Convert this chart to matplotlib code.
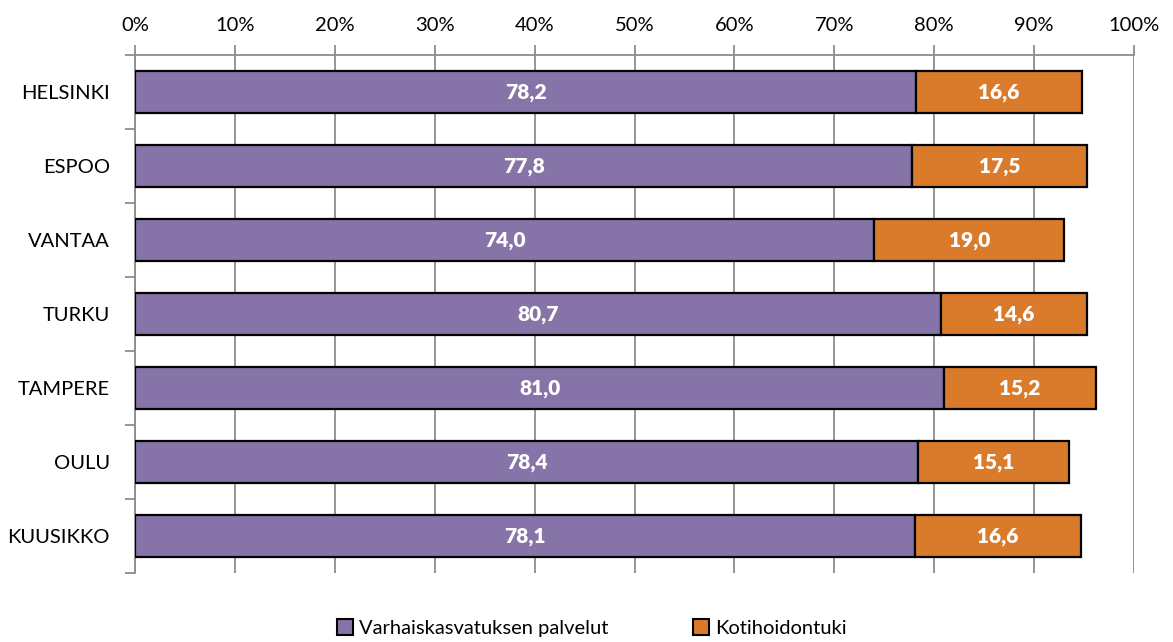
import matplotlib
matplotlib.use("Agg")
import matplotlib.pyplot as plt
import matplotlib.patches as mpatches
import numpy as np

cities = ["HELSINKI", "ESPOO", "VANTAA", "TURKU", "TAMPERE", "OULU", "KUUSIKKO"]
varhais = [78.2, 77.8, 74.0, 80.7, 81.0, 78.4, 78.1]
kotihoito = [16.6, 17.5, 19.0, 14.6, 15.2, 15.1, 16.6]
series_names = ["Varhaiskasvatuksen palvelut", "Kotihoidontuki"]
x_ticks = [0, 10, 20, 30, 40, 50, 60, 70, 80, 90, 100]

purple = "#8674A9"
orange = "#D97B2B"
grid_c = "#8C8C8C"

plt.rcParams["font.family"] = ["Lato", "DejaVu Sans"]

fig = plt.figure(figsize=(11.73, 6.42), dpi=100)
ax = fig.add_axes([135 / 1173, 1 - 573 / 642, (1134 - 135) / 1173, (573 - 55) / 642])

y = np.arange(len(cities))
h = 0.58
b1 = ax.barh(y, varhais, h, color=purple, edgecolor="black", linewidth=1.6, zorder=3)
b2 = ax.barh(y, kotihoito, h, left=varhais, color=orange, edgecolor="black",
             linewidth=1.6, zorder=3)

fmt = lambda v: f"{v:.1f}".replace(".", ",")
for bars, lefts, vals in [(b1, [0] * len(y), varhais), (b2, varhais, kotihoito)]:
    for bar, l, v in zip(bars, lefts, vals):
        ax.text(l + v / 2, bar.get_y() + bar.get_height() / 2, fmt(v),
                ha="center", va="center", color="white", fontsize=15,
                fontweight="heavy", zorder=4)

ax.set_xlim(0, 100)
ax.set_ylim(len(cities) - 0.5, -0.5)
ax.set_xticks(x_ticks)
ax.set_xticklabels([f"{t}%" for t in x_ticks], fontsize=14.5)
ax.xaxis.tick_top()
ax.tick_params(axis="x", direction="out", length=7, width=1.3, color=grid_c, pad=8)
ax.grid(axis="x", color=grid_c, linewidth=1.3, zorder=0)

ax.set_yticks(y)
ax.set_yticklabels(cities, fontsize=14.5)
ax.set_yticks(np.arange(-0.5, len(cities), 1), minor=True)
ax.tick_params(axis="y", which="major", length=0, pad=18)
ax.tick_params(axis="y", which="minor", length=7, width=1.3, color=grid_c)

for s in ["bottom", "right"]:
    ax.spines[s].set_visible(False)
for s in ["top", "left"]:
    ax.spines[s].set_color(grid_c)
    ax.spines[s].set_linewidth(1.3)

handles = [mpatches.Patch(facecolor=purple, edgecolor="black", linewidth=1.5, label=series_names[0]),
           mpatches.Patch(facecolor=orange, edgecolor="black", linewidth=1.5, label=series_names[1])]
fig.legend(handles=handles, loc="center", bbox_to_anchor=(592 / 1173, 1 - 628 / 642),
           ncol=2, frameon=False, fontsize=14.5, handlelength=0.8, handleheight=0.8,
           handletextpad=0.3, columnspacing=4.2)

plt.savefig("out.png", dpi=100)
plt.close()
